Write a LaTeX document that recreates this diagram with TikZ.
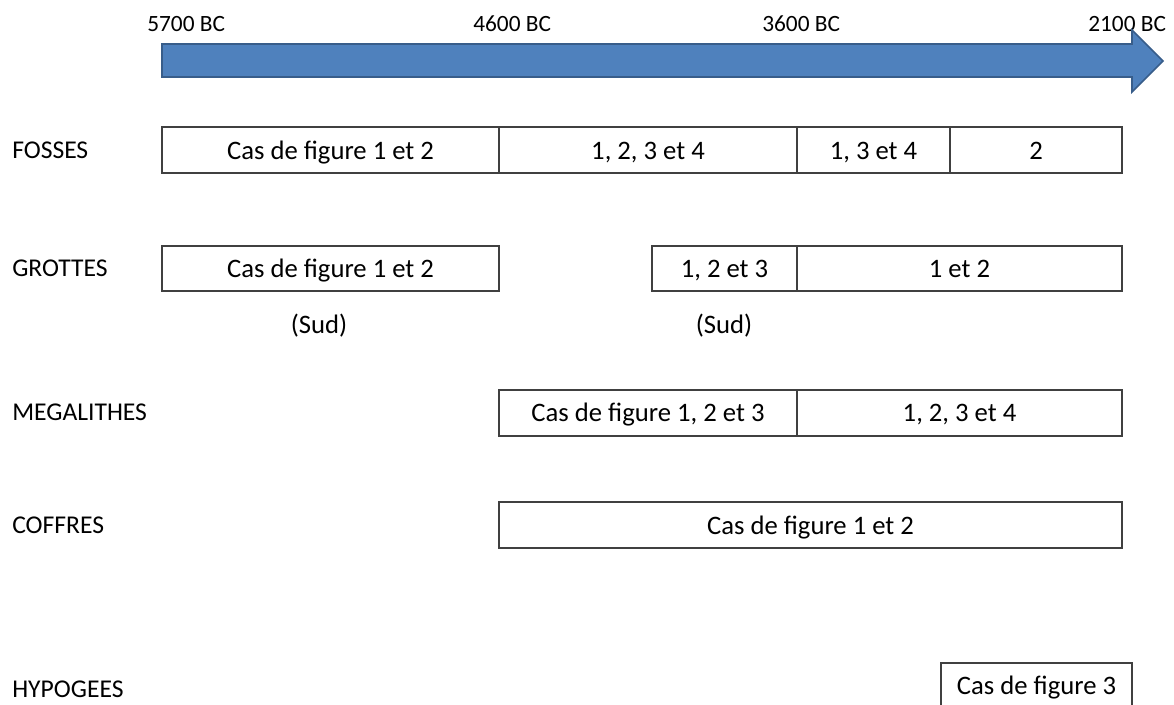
\documentclass[tikz,border=0pt]{standalone}
\usepackage{fontspec}
\setmainfont{Carlito}
\begin{document}
\begin{tikzpicture}[x=0.75pt,y=-0.75pt,
  cell/.style={draw=black!75,line width=0.8pt},
  celltext/.style={font=\fontsize{20}{24}\selectfont,inner sep=0pt,anchor=base},
  rowlabel/.style={font=\fontsize{19.2}{23}\selectfont,anchor=base west,inner sep=0pt},
  datelabel/.style={font=\fontsize{17.5}{21}\selectfont,anchor=base west,inner sep=0pt}]
\useasboundingbox (0,0) rectangle (1174,705);
\clip (0,0) rectangle (1174,705);
% date labels (under the arrow)
\node[datelabel] (d1) at (147,32) {5700 BC};
\node[datelabel] (d2) at (473,32) {4600 BC};
\node[datelabel] (d3) at (762,32) {3600 BC};
\node[datelabel] (d4) at (1088,32) {2100 BC};
% arrow
\draw[fill={rgb,255:red,79;green,129;blue,189},draw={rgb,255:red,56;green,93;blue,138},line width=1.2pt,line join=miter]
  (162,44) -- (1132,44) -- (1132,30) -- (1163,61) -- (1132,92) -- (1132,77) -- (162,77) -- cycle;
% row labels
\node[rowlabel] (lf) at (12,159) {FOSSES};
\node[rowlabel] (lg) at (12,277) {GROTTES};
\node[rowlabel] (lm) at (12,421) {MEGALITHES};
\node[rowlabel] (lc) at (12,533) {COFFRES};
\node[rowlabel] (lh) at (12,697) {HYPOGEES};
% FOSSES
\draw[cell] (162,127) rectangle (499,173);
\draw[cell] (499,127) rectangle (797,173);
\draw[cell] (797,127) rectangle (950,173);
\draw[cell] (950,127) rectangle (1122,173);
\node[celltext] (f1) at (330.5,159.5) {Cas de figure 1 et 2};
\node[celltext] (f2) at (648,159.5) {1, 2, 3 et 4};
\node[celltext] (f3) at (873.5,159.5) {1, 3 et 4};
\node[celltext] (f4) at (1036,159.5) {2};
% GROTTES
\draw[cell] (162,246) rectangle (499,291);
\draw[cell] (652,246) rectangle (797,291);
\draw[cell] (797,246) rectangle (1122,291);
\node[celltext] (g1) at (330.5,277.5) {Cas de figure 1 et 2};
\node[celltext] (g2) at (724.5,277.5) {1, 2 et 3};
\node[celltext] (g3) at (959.5,277.5) {1 et 2};
\node[celltext] (s1) at (319,334) {(Sud)};
\node[celltext] (s2) at (724,334) {(Sud)};
% MEGALITHES
\draw[cell] (499,390) rectangle (797,436);
\draw[cell] (797,390) rectangle (1122,436);
\node[celltext] (m1) at (648,422) {Cas de figure 1, 2 et 3};
\node[celltext] (m2) at (959.5,422) {1, 2, 3 et 4};
% COFFRES
\draw[cell] (499,502) rectangle (1122,548);
\node[celltext] (c1) at (810.5,534) {Cas de figure 1 et 2};
% HYPOGEES
\draw[cell] (941,663) rectangle (1132,730);
\node[celltext] (h1) at (1036.5,694) {Cas de figure 3};
\end{tikzpicture}
\end{document}
